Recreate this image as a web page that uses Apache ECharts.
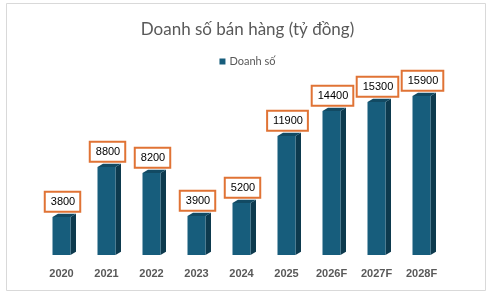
<!DOCTYPE html>
<html>
<head>
  <meta charset="utf-8">
  <title>Doanh số</title>
  <script src="https://cdn.jsdelivr.net/npm/echarts@6/dist/echarts.min.js"></script>
</head>
<body style="margin:0">
  <div id="main" style="width:495px;height:292px;"></div>
  <script type="text/javascript">
    var categories = ['2020', '2021', '2022', '2023', '2024', '2025', '2026F', '2027F', '2028F'];
    var sales = [3800, 8800, 8200, 3900, 5200, 11900, 14400, 15300, 15900];

    var myChart = echarts.init(document.getElementById('main'));

    var front = '#175d7c', side = '#0d3a4e', topFace = '#124a63';

    function renderBar(params, api) {
      var base = api.coord([api.value(0), 0]);
      var top = api.coord([api.value(0), api.value(1)]);
      var w = 18, dx = 5.5, dy = 3.2;
      var x0 = base[0] - w / 2;
      return {
        type: 'group',
        children: [
          {
            type: 'polygon',
            shape: { points: [[x0 + w, top[1]], [x0 + w + dx, top[1] - dy], [x0 + w + dx, base[1] - dy], [x0 + w, base[1]]] },
            style: { fill: side }
          },
          {
            type: 'polygon',
            shape: { points: [[x0, top[1]], [x0 + dx, top[1] - dy], [x0 + w + dx, top[1] - dy], [x0 + w, top[1]]] },
            style: { fill: topFace }
          },
          {
            type: 'rect',
            shape: { x: x0, y: top[1], width: w, height: base[1] - top[1] },
            style: { fill: front }
          },
          {
            type: 'text',
            x: base[0] + 1,
            y: top[1] - dy - 3,
            style: {
              text: String(api.value(1)),
              fill: '#000',
              font: '11px "Liberation Sans", Arial',
              align: 'center',
              verticalAlign: 'bottom',
              backgroundColor: '#fff',
              borderColor: '#e07335',
              borderWidth: 2,
              padding: [3, 4, 3, 5],
              lineHeight: 12
            }
          }
        ]
      };
    }

    var option = {
      backgroundColor: '#fff',
      animation: false,
      title: {
        text: 'Doanh số bán hàng (tỷ đồng)',
        left: 'center',
        top: 16,
        textStyle: { fontFamily: 'Lato', fontSize: 17, fontWeight: 'normal', color: '#595959' }
      },
      legend: {
        top: 51,
        left: 'center',
        icon: 'rect',
        itemWidth: 6,
        itemHeight: 6,
        itemGap: 4,
        textStyle: { fontFamily: 'Lato', fontSize: 11, color: '#595959', padding: [0, 0, 0, -1] },
        data: ['Doanh số']
      },
      graphic: [{
        type: 'rect',
        shape: { x: 6.5, y: 3.5, width: 479, height: 287 },
        style: { fill: 'none', stroke: '#d9d9d9', lineWidth: 1 },
        silent: true
      }],
      grid: { left: 39, right: 51, top: 75, bottom: 37 },
      xAxis: {
        type: 'category',
        data: categories,
        axisLine: { show: false },
        axisTick: { show: false },
        axisLabel: { margin: 13, fontFamily: 'Liberation Sans', fontSize: 11, fontWeight: 'bold', color: '#595959' }
      },
      yAxis: {
        type: 'value',
        min: 0,
        max: 18000,
        show: false,
        splitLine: { show: false }
      },
      series: [{
        name: 'Doanh số',
        type: 'custom',
        renderItem: renderBar,
        itemStyle: { color: front },
        encode: { x: 0, y: 1 },
        data: sales.map(function (v, i) { return [i, v]; })
      }]
    };

    myChart.setOption(option);
  </script>
</body>
</html>
